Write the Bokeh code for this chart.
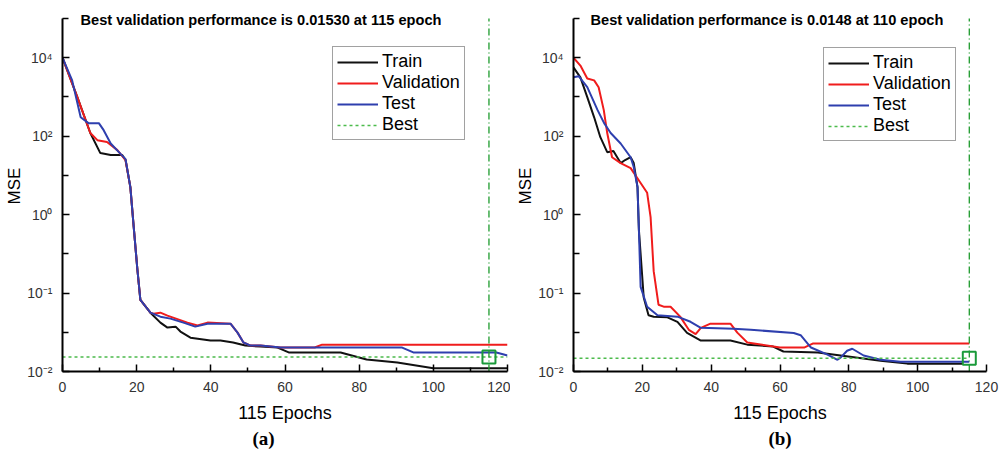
import numpy as np
from bokeh.plotting import figure
from bokeh.layouts import row
from bokeh.models import (Range1d, FixedTicker, CustomJSTickFormatter, Label,
                          Legend, LegendItem, Title)
from bokeh.embed import file_html
from bokeh.resources import INLINE

# ---------------- data (MSE) ----------------
a_train_epoch = [0, 4, 7.5, 10.2, 13, 16.1, 17, 18.3, 19.2, 20.2, 21, 23.7, 26.4, 28.3, 30.5,
                 31.8, 34.5, 39.9, 42.6, 46, 49.3, 53.4, 58, 61, 75, 82, 90.3, 100, 120]
a_train_mse = [1e4, 985, 120, 37, 33, 33, 24.6, 5.0, 0.70, 0.198, 0.082, 0.0562, 0.042, 0.0363,
               0.0373, 0.0323, 0.027, 0.0248, 0.0248, 0.0234, 0.0214, 0.0208, 0.0202, 0.0175,
               0.0175, 0.0142, 0.0130, 0.0110, 0.0110]
a_val_epoch = [0, 4, 7.5, 9.4, 12, 14.8, 17, 18.3, 19.2, 20.2, 21, 23.7, 24.5, 26.4, 28.3, 33.7,
               36.4, 39.1, 45.3, 47.2, 48.8, 50.7, 53.4, 58.8, 68, 70, 120]
a_val_mse = [1e4, 985, 120, 79, 71, 44, 24.6, 5.0, 0.70, 0.198, 0.082, 0.0562, 0.0546, 0.0562,
             0.0515, 0.042, 0.0385, 0.042, 0.0407, 0.0313, 0.0234, 0.0214, 0.0214, 0.0202,
             0.0202, 0.022, 0.022]
a_test_epoch = [0, 2.6, 4.9, 7, 9.8, 11.1, 13, 15.2, 17, 18.3, 19.2, 20.2, 21, 23.7, 26.4, 29.1,
                32.6, 35.8, 39.1, 45.3, 47.2, 48.8, 50.7, 53.4, 58.8, 91.6, 94.6, 117, 120]
a_test_mse = [1e4, 2640, 302, 214, 214, 142, 65, 39, 26, 5.0, 0.70, 0.198, 0.082, 0.0562, 0.050,
              0.0472, 0.042, 0.0373, 0.0407, 0.0407, 0.0313, 0.0234, 0.0214, 0.0214, 0.0202,
              0.0202, 0.0175, 0.0175, 0.016]
a_best_epoch = 115
a_best_mse = 0.0153
a_title = "Best validation performance is 0.01530 at 115 epoch"

b_train_epoch = [0, 2, 4, 6, 7.8, 9.8, 11.6, 13.7, 15, 16.6, 17.5, 18.6, 19, 20.4, 21.8, 23.3,
                 27.3, 30.2, 33, 37, 45.6, 50.5, 58, 61, 71, 77.6, 89.2, 97, 113]
b_train_mse = [5650, 3160, 985, 302, 94, 39, 42, 20.6, 24.6, 29, 20.6, 5.0, 0.64, 0.088, 0.052,
               0.050, 0.049, 0.043, 0.031, 0.0248, 0.0248, 0.022, 0.0208, 0.018, 0.0175, 0.016,
               0.0137, 0.0126, 0.0126]
b_val_epoch = [0, 2, 4, 6, 7.3, 8.8, 9.8, 11.2, 13.7, 16.6, 19.5, 21.4, 22.4, 23.3, 24.7, 26.2,
               28.2, 31, 33.5, 35.5, 37, 39.8, 45.6, 47.6, 50.5, 60, 67, 69.5, 115]
b_val_mse = [1e4, 6300, 2960, 2640, 1770, 460, 120, 29, 20.6, 15.3, 6.4, 3.6, 0.93, 0.19, 0.071,
             0.067, 0.067, 0.050, 0.034, 0.030, 0.036, 0.0407, 0.0407, 0.0313, 0.0234, 0.0202,
             0.0202, 0.0227, 0.0227]
b_test_epoch = [0, 1.5, 4, 7, 8.9, 10.8, 13.7, 16.6, 17.5, 18.6, 19, 19.5, 21.4, 24.4, 30.2, 34,
                37, 46.5, 51.5, 64, 66, 69, 73.8, 76.7, 77.6, 79.5, 81, 84.3, 89.2, 95, 115]
b_test_mse = [3160, 3370, 1770, 460, 214, 120, 65, 29, 16.3, 5.0, 0.64, 0.12, 0.067, 0.052, 0.050,
              0.043, 0.036, 0.035, 0.034, 0.031, 0.029, 0.0202, 0.0164, 0.0141, 0.015, 0.0184,
              0.0195, 0.016, 0.0141, 0.0133, 0.0133]
b_best_epoch = 115
b_best_mse = 0.0148
b_title = "Best validation performance is 0.0148 at 110 epoch"

x_ticks = [0, 20, 40, 60, 80, 100, 120]
x_minor = [10, 30, 50, 70, 90, 110]
y_tick_values = [1e4, 1e2, 1e0, 1e-1, 1e-2]
y_tick_labels = ["10\u2074", "10\u00b2", "10\u2070", "10\u207b\u00b9", "10\u207b\u00b2"]
x_max = 120
Y_LO, Y_HI = -2.0, 2.5          # extent of the printed MSE axis (axis units)

# The printed MSE axis: one step per two decades above 10^0, one per decade below.
def axis_pos(v):
    v = np.asarray(v, dtype=float)
    return np.where(v >= 1, np.log10(v) / 2.0, np.log10(v))

FONT = "Liberation Sans"
C_TRAIN, C_VAL, C_TEST = "#111111", "#f01c1c", "#2e3fae"
C_BEST_H, C_BEST_V, C_BOX = "#4cbb4c", "#1c9a2c", "#1a9a3a"
PX_PER_UNIT = 354 / (Y_HI - Y_LO)


def make_panel(width, left, right, bottom, tr, va, te, best_epoch, best_mse, best_xend,
               title, title_dx, tag, tag_align, tag_dx, leg_xy):
    head = 18 / PX_PER_UNIT      # room above the axis for the title text
    p = figure(width=width, height=454, output_backend="svg", toolbar_location=None,
               x_range=Range1d(0, x_max), y_range=Range1d(Y_LO, Y_HI + head),
               min_border_left=left, min_border_right=right, min_border_top=0,
               min_border_bottom=bottom, background_fill_color="white",
               border_fill_color="white")
    p.outline_line_color = None
    p.grid.visible = False

    lines = []
    for (ep, ms), col in zip([tr, va, te], [C_TRAIN, C_VAL, C_TEST]):
        lines.append(p.line(ep, axis_pos(ms), line_color=col, line_width=2))
    best_line = p.line([0, best_xend], axis_pos([best_mse, best_mse]), line_color=C_BEST_H,
                       line_width=1.5, line_dash="3 3")
    p.line([best_epoch, best_epoch], [Y_LO, Y_HI], line_color=C_BEST_V,
           line_width=1.3, line_dash="7 3 1 3")
    p.scatter([best_epoch], axis_pos([best_mse]), marker="square", size=13,
              fill_color=None, line_color=C_BOX, line_width=2)

    # axes
    xa = p.xaxis[0]
    xa.ticker = FixedTicker(ticks=x_ticks, minor_ticks=x_minor)
    xa.axis_label = "115 Epochs"
    ya = p.yaxis[0]
    ya.bounds = (Y_LO, Y_HI)
    ya.ticker = FixedTicker(ticks=[float(t) for t in axis_pos(y_tick_values)],
                            minor_ticks=[2.5, 1.5, 0.5, -0.5, -1.5])
    mapping = {str(int(t)): lab for t, lab in zip(axis_pos(y_tick_values), y_tick_labels)}
    ya.formatter = CustomJSTickFormatter(args=dict(m=mapping),
                                         code="const k = String(Math.round(tick)); return m[k] || '';")
    ya.axis_label = "MSE"
    for ax in (xa, ya):
        ax.axis_line_color = "black"
        ax.axis_line_width = 2
        ax.major_tick_line_color = "black"
        ax.minor_tick_line_color = "black"
        ax.major_tick_line_width = 1.5
        ax.minor_tick_line_width = 1.5
        ax.major_tick_in = 7
        ax.major_tick_out = 0
        ax.minor_tick_out = 0
        ax.major_label_text_font = FONT
        ax.major_label_text_font_size = "14px"
        ax.major_label_text_color = "#333333"
        ax.axis_label_text_font = FONT
        ax.axis_label_text_font_style = "normal"
        ax.axis_label_text_color = "black"
    xa.minor_tick_in = 4
    ya.minor_tick_in = 6
    xa.major_label_standoff = 10
    xa.axis_label_standoff = 8
    xa.axis_label_text_font_size = "18px"
    ya.major_label_standoff = 10
    ya.axis_label_standoff = 0
    ya.axis_label_text_font_size = "17px"

    legend = Legend(items=[LegendItem(label="Train", renderers=[lines[0]]),
                           LegendItem(label="Validation", renderers=[lines[1]]),
                           LegendItem(label="Test", renderers=[lines[2]]),
                           LegendItem(label="Best", renderers=[best_line])],
                    location=leg_xy, orientation="vertical")
    legend.label_text_font = FONT
    legend.label_text_font_size = "18px"
    legend.label_text_color = "black"
    legend.label_height = 20
    legend.glyph_height = 20
    legend.glyph_width = 41
    legend.label_standoff = 4
    legend.spacing = 0
    legend.padding = 4
    legend.margin = 0
    legend.border_line_color = "#444444"
    legend.border_line_width = 1
    legend.background_fill_color = "white"
    legend.background_fill_alpha = 1
    p.add_layout(legend, "center")

    p.add_layout(Label(x=title_dx, y=352, x_units="screen", y_units="screen", text=title,
                       text_font=FONT, text_font_size="14.6px", text_font_style="bold",
                       text_color="black", text_baseline="alphabetic", text_align="left"))
    p.add_layout(Title(text=tag, align=tag_align, offset=tag_dx,
                       text_font="Liberation Serif", text_font_size="19px",
                       text_font_style="bold", text_color="black", standoff=0), "below")
    return p


pa = make_panel(510, 62, 3, 82,
                (a_train_epoch, a_train_mse), (a_val_epoch, a_val_mse),
                (a_test_epoch, a_test_mse), a_best_epoch, a_best_mse, x_max,
                a_title, 18, "(a)", "left", 190, (270, 231))
pb = make_panel(495, 63, 19, 83,
                (b_train_epoch, b_train_mse), (b_val_epoch, b_val_mse),
                (b_test_epoch, b_test_mse), b_best_epoch, b_best_mse, b_best_epoch,
                b_title, 17, "(b)", "center", 0, (250, 230))

layout = row(pa, pb)
open("out.html", "w").write(file_html(layout, INLINE))
